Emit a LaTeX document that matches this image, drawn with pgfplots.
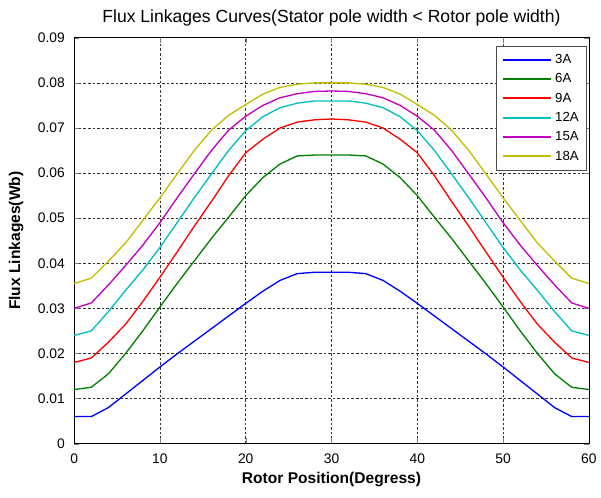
\documentclass[border=0pt]{standalone}
\usepackage{fontspec}
\setmainfont{Liberation Sans}
\usepackage{pgfplots}
\pgfplotsset{compat=1.18}
\definecolor{mblue}{RGB}{0,0,255}
\definecolor{mgreen}{RGB}{0,128,0}
\definecolor{mred}{RGB}{255,0,0}
\definecolor{mcyan}{RGB}{0,191,191}
\definecolor{mmag}{RGB}{191,0,191}
\definecolor{myel}{RGB}{191,191,0}
\begin{document}
\begin{tikzpicture}
\begin{axis}[
  width=390pt, height=307.5pt,
  scale only axis,
  xmin=0, xmax=60, ymin=0, ymax=0.09,
  xtick={0,10,...,60},
  ytick={0,0.01,...,0.09},
  yticklabels={0,0.01,0.02,0.03,0.04,0.05,0.06,0.07,0.08,0.09},
  scaled y ticks=false,
  /pgf/number format/assume math mode=true,
  tick align=inside,
  xtick pos=both, ytick pos=both,
  major tick length=4pt,
  tick label style={font=\fontsize{10.5}{12}\selectfont},
  yticklabel style={xshift=-3.5pt},
  xticklabel style={yshift=-4pt},
  grid=major,
  grid style={black!80, dash pattern=on 2pt off 1.5pt, line width=0.45pt},
  axis line style={black, line width=0.5pt},
  title={Flux Linkages Curves(Stator pole width < Rotor pole width)},
  title style={font=\fontsize{13.3}{15}\selectfont, yshift=-1pt, text height=14pt},
  xlabel={\textbf{Rotor Position(Degress)}},
  ylabel={\textbf{Flux Linkages(Wb)}},
  label style={font=\fontsize{11.8}{13}\selectfont},
  xlabel style={yshift=0pt, text depth=7pt},
  ylabel style={yshift=4pt, text height=12pt},
  legend style={at={(0.996,0.98)}, anchor=north east, draw=black!70,
    font=\fontsize{10}{12}\selectfont, row sep=2.2pt, cells={anchor=west},
    inner sep=4pt},
  legend image code/.code={\draw[#1, line width=1.6pt] (0cm,0cm) -- (1.3cm,0cm);},
  every axis plot/.append style={line width=1pt},
]
\addplot[mblue] coordinates {(0,0.0060)(2,0.0060)(4,0.0080)(6,0.0110)(8,0.0140)(10,0.0170)(12,0.0199)(14,0.0227)(16,0.0255)(18,0.0283)(20,0.0311)(22,0.0338)(24,0.0362)(26,0.0377)(28,0.0380)(30,0.0380)(32,0.0380)(34,0.0377)(36,0.0362)(38,0.0338)(40,0.0311)(42,0.0283)(44,0.0255)(46,0.0227)(48,0.0199)(50,0.0170)(52,0.0140)(54,0.0110)(56,0.0080)(58,0.0060)(60,0.0060)};
\addplot[mgreen] coordinates {(0,0.0120)(2,0.0125)(4,0.0155)(6,0.0200)(8,0.0250)(10,0.0303)(12,0.0355)(14,0.0405)(16,0.0455)(18,0.0502)(20,0.0550)(22,0.0590)(24,0.0620)(26,0.0638)(28,0.0640)(30,0.0640)(32,0.0640)(34,0.0638)(36,0.0620)(38,0.0590)(40,0.0550)(42,0.0502)(44,0.0455)(46,0.0405)(48,0.0355)(50,0.0303)(52,0.0250)(54,0.0200)(56,0.0155)(58,0.0125)(60,0.0120)};
\addplot[mred] coordinates {(0,0.0180)(2,0.0190)(4,0.0225)(6,0.0265)(8,0.0315)(10,0.0369)(12,0.0425)(14,0.0482)(16,0.0537)(18,0.0594)(20,0.0645)(22,0.0675)(24,0.0700)(26,0.0713)(28,0.0718)(30,0.0720)(32,0.0718)(34,0.0713)(36,0.0700)(38,0.0675)(40,0.0645)(42,0.0594)(44,0.0537)(46,0.0482)(48,0.0425)(50,0.0369)(52,0.0315)(54,0.0265)(56,0.0225)(58,0.0190)(60,0.0180)};
\addplot[mcyan] coordinates {(0,0.0240)(2,0.0250)(4,0.0293)(6,0.0340)(8,0.0385)(10,0.0435)(12,0.0490)(14,0.0545)(16,0.0598)(18,0.0650)(20,0.0694)(22,0.0725)(24,0.0745)(26,0.0755)(28,0.0760)(30,0.0760)(32,0.0760)(34,0.0755)(36,0.0745)(38,0.0725)(40,0.0694)(42,0.0650)(44,0.0598)(46,0.0545)(48,0.0490)(50,0.0435)(52,0.0385)(54,0.0340)(56,0.0293)(58,0.0250)(60,0.0240)};
\addplot[mmag] coordinates {(0,0.0300)(2,0.0312)(4,0.0352)(6,0.0395)(8,0.0440)(10,0.0490)(12,0.0545)(14,0.0598)(16,0.0650)(18,0.0695)(20,0.0726)(22,0.0750)(24,0.0767)(26,0.0776)(28,0.0781)(30,0.0782)(32,0.0781)(34,0.0776)(36,0.0767)(38,0.0750)(40,0.0726)(42,0.0695)(44,0.0650)(46,0.0598)(48,0.0545)(50,0.0490)(52,0.0440)(54,0.0395)(56,0.0352)(58,0.0312)(60,0.0300)};
\addplot[myel] coordinates {(0,0.0355)(2,0.0367)(4,0.0405)(6,0.0445)(8,0.0495)(10,0.0545)(12,0.0598)(14,0.0650)(16,0.0695)(18,0.0728)(20,0.0752)(22,0.0775)(24,0.0790)(26,0.0797)(28,0.0800)(30,0.0800)(32,0.0800)(34,0.0797)(36,0.0790)(38,0.0775)(40,0.0752)(42,0.0728)(44,0.0695)(46,0.0650)(48,0.0598)(50,0.0545)(52,0.0495)(54,0.0445)(56,0.0405)(58,0.0367)(60,0.0355)};
\legend{3A,6A,9A,12A,15A,18A}
\end{axis}
\end{tikzpicture}
\end{document}
